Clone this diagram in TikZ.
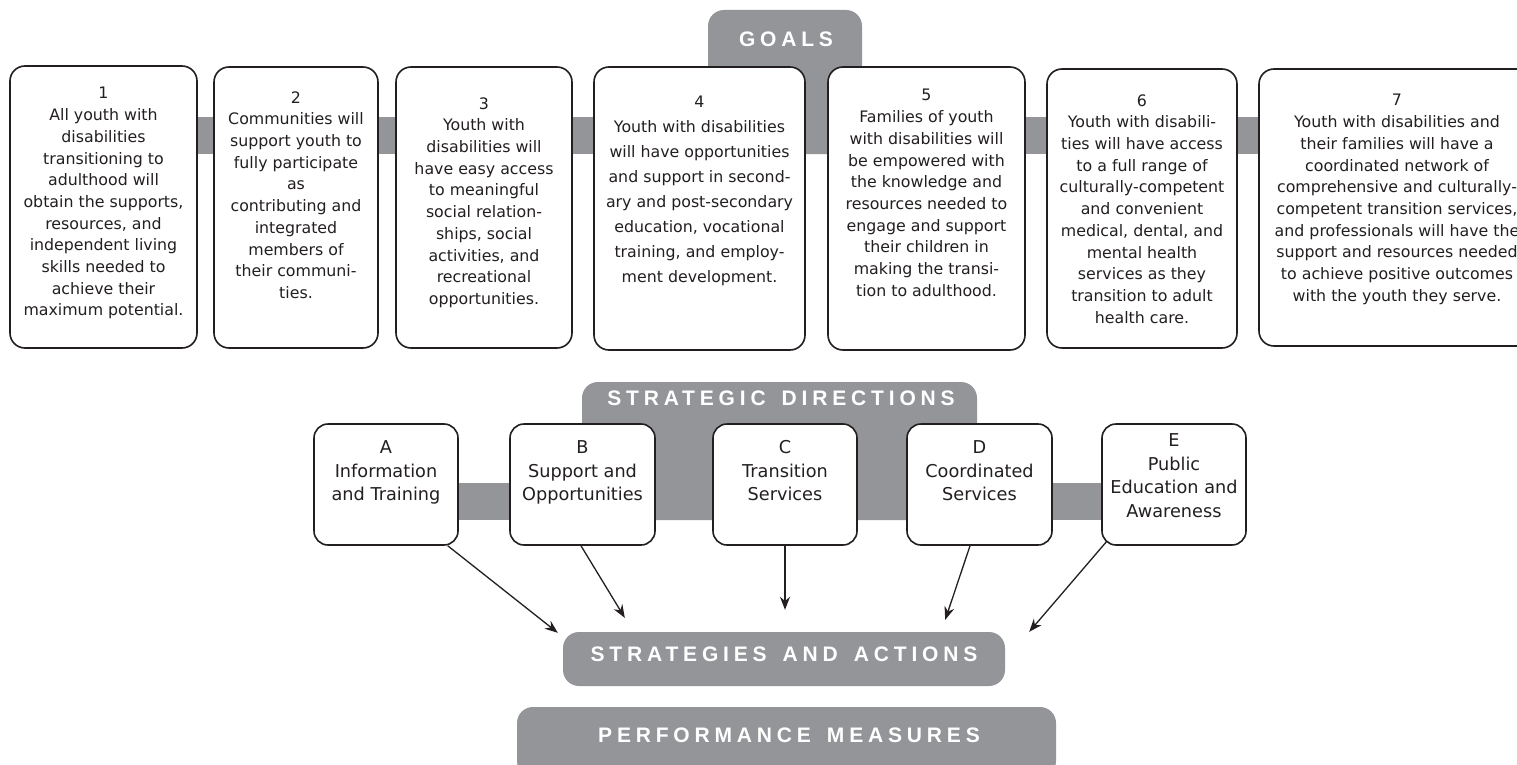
\documentclass[tikz,border=0pt]{standalone}
\usepackage{fontspec}
\setmainfont{DejaVu Sans}
\newfontfamily\tabfont[LetterSpace=23]{Liberation Sans}
\usetikzlibrary{arrows.meta,calc}
\definecolor{tabgray}{RGB}{147,149,152}
\definecolor{ink}{RGB}{35,31,32}
\newcommand\wsp{\hspace{16pt}}
\begin{document}
\begin{tikzpicture}[x=1pt,y=-1pt,
  goalbox/.style={draw=ink, line width=1.6pt, fill=white, rounded corners=15pt, inner sep=0pt},
  goaltext/.style={font=\fontsize{15.8}{21.7}\selectfont, align=center, inner sep=0pt, anchor=north, text=ink},
  goaltextwide/.style={goaltext, font=\fontsize{15.8}{25}\selectfont},
  dirbox/.style={draw=ink, line width=1.6pt, fill=white, rounded corners=14pt, inner sep=0pt, minimum width=144pt, minimum height=121pt},
  dirtext/.style={font=\fontsize{17.7}{23.5}\selectfont, align=center, inner sep=0pt, anchor=north, text=ink},
  graybar/.style={fill=tabgray, rounded corners=16pt, inner sep=0pt},
  tablabel/.style={font=\tabfont\bfseries\fontsize{21}{21}\selectfont, text=white, inner sep=0pt},
  arr/.style={draw=ink, line width=1.3pt, -{Stealth[length=13pt,width=10pt]}}
]
\useasboundingbox (0,0) rectangle (1517,765);
\fill[white] (0,0) rectangle (1517,765);

% ---- GOALS band and tab
\fill[tabgray] (103.5,117) rectangle (1397,154);
\fill[tabgray, rounded corners=16pt] (708,154) -- (708,10) -- (862,10) -- (862,154) -- cycle;
\node[tablabel] (goalslbl) at (786,39) {GOALS};

% ---- goal boxes
\node[goalbox, minimum width=187pt, minimum height=282pt] (g1) at (103.5,207) {};
\node[goalbox, minimum width=164pt, minimum height=281pt] (g2) at (296,207.5) {};
\node[goalbox, minimum width=176pt, minimum height=281pt] (g3) at (484,207.5) {};
\node[goalbox, minimum width=211pt, minimum height=283pt] (g4) at (699.5,208.5) {};
\node[goalbox, minimum width=197pt, minimum height=283pt] (g5) at (926.5,208.5) {};
\node[goalbox, minimum width=190pt, minimum height=279pt] (g6) at (1142,208.5) {};
\node[goalbox, minimum width=276pt, minimum height=277pt] (g7) at (1397,207.5) {};

\node[goaltext] (g1t) at (103.5,87.2) {1\\All youth with\\disabilities\\transitioning to\\adulthood will\\obtain the supports,\\resources, and\\independent living\\skills needed to\\achieve their\\maximum potential.};
\node[goaltext] (g2t) at (296,91.2) {2\\Communities will\\support youth to\\fully participate\\as\\contributing and\\integrated\\members of\\their communi-\\ties.};
\node[goaltext] (g3t) at (484,97.2) {3\\Youth with\\disabilities will\\have easy access\\to meaningful\\social relation-\\ships, social\\activities, and\\recreational\\opportunities.};
\node[goaltextwide] (g4t) at (699.5,96.2) {4\\Youth with disabilities\\will have opportunities\\and support in second-\\ary and post-secondary\\education, vocational\\training, and employ-\\ment development.};
\node[goaltext] (g5t) at (926.5,89.2) {5\\Families of youth\\with disabilities will\\be empowered with\\the knowledge and\\resources needed to\\engage and support\\their children in\\making the transi-\\tion to adulthood.};
\node[goaltext] (g6t) at (1142,94.2) {6\\Youth with disabili-\\ties will have access\\to a full range of\\culturally-competent\\and convenient\\medical, dental, and\\mental health\\services as they\\transition to adult\\health care.};
\node[goaltext] (g7t) at (1397,94.2) {7\\Youth with disabilities and\\their families will have a\\coordinated network of\\comprehensive and culturally-\\competent transition services,\\and professionals will have the\\support and resources needed\\to achieve positive outcomes\\with the youth they serve.};

% ---- STRATEGIC DIRECTIONS band and tab
\fill[tabgray] (386,483) rectangle (1174,520);
\fill[tabgray, rounded corners=16pt] (582,520) -- (582,382) -- (977,382) -- (977,520) -- cycle;
\node[tablabel] (sdlbl) at (781,398) {STRATEGIC\wsp DIRECTIONS};

\node[dirbox] (A) at (386,484.5) {};
\node[dirbox, minimum width=145pt] (B) at (582.5,484.5) {};
\node[dirbox] (C) at (785,484.5) {};
\node[dirbox, minimum width=145pt] (D) at (979.5,484.5) {};
\node[dirbox] (E) at (1174,484.5) {};

\node[dirtext] (At) at (386,440.5) {A\\Information\\and Training};
\node[dirtext] (Bt) at (582.5,440.5) {B\\Support and\\Opportunities};
\node[dirtext] (Ct) at (785,440.5) {C\\Transition\\Services};
\node[dirtext] (Dt) at (979.5,440.5) {D\\Coordinated\\Services};
\node[dirtext] (Et) at (1174,433.5) {E\\Public\\Education and\\Awareness};

% ---- strategies and actions / performance measures
\node[graybar, minimum width=442pt, minimum height=54pt] (sa) at (784,659) {};
\node[tablabel] (salbl) at (784,654.5) {STRATEGIES\wsp AND\wsp ACTIONS};
\node[graybar, minimum width=539pt, minimum height=70pt] (pm) at (786.5,742) {};
\node[tablabel] (pmlbl) at (789,735) {PERFORMANCE\wsp MEASURES};

% ---- arrows
\draw[arr] ([shift={(-11,0)}]A.south east) -- ([shift={(-5,1)}]sa.north west);
\draw[arr] ([shift={(-1.5,0)}]B.south) -- ([shift={(62,-14)}]sa.north west);
\draw[arr] (C.south) -- ($(C.south |- sa.north)+(0,-22)$);
\draw[arr] ([shift={(-9.5,0)}]D.south) -- ([shift={(-60,-12)}]sa.north east);
\draw[arr] ([shift={(6,-5)}]E.south west) -- ([shift={(24,0)}]sa.north east);
\end{tikzpicture}
\end{document}
